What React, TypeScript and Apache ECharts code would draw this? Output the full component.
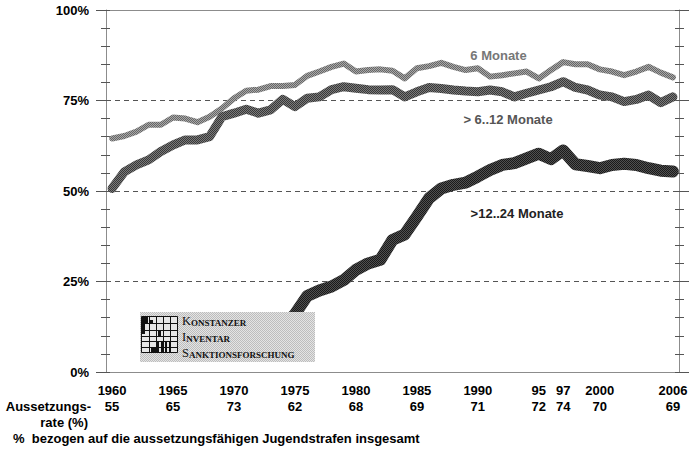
import React, { useEffect, useRef } from "react";
import * as echarts from "echarts";

const years = [
  "1960","1961","1962","1963","1964","1965","1966","1967","1968","1969",
  "1970","1971","1972","1973","1974","1975","1976","1977","1978","1979",
  "1980","1981","1982","1983","1984","1985","1986","1987","1988","1989",
  "1990","1991","1992","1993","1994","1995","1996","1997","1998","1999",
  "2000","2001","2002","2003","2004","2005","2006",
];

const months6 = [
  64.5, 65.2, 66.4, 68.3, 68.3, 70.3, 70.0, 69.0, 70.5, 72.8,
  75.6, 77.7, 78.0, 79.0, 79.0, 79.3, 81.8, 83.0, 84.3, 85.2,
  83.0, 83.4, 83.6, 83.2, 81.1, 83.9, 84.5, 85.4, 84.3, 83.4,
  83.9, 81.6, 82.0, 82.5, 83.0, 81.1, 83.4, 85.6, 85.0, 85.0,
  83.6, 83.0, 82.0, 83.0, 84.3, 82.7, 81.4,
];

const months6to12 = [
  50.7, 55.3, 57.2, 58.6, 60.9, 62.7, 64.1, 64.1, 65.0, 70.5,
  71.5, 72.6, 71.5, 72.4, 75.3, 73.3, 75.6, 76.0, 78.0, 78.8,
  78.4, 78.0, 77.9, 78.0, 76.0, 77.4, 78.6, 78.3, 77.9, 77.6,
  77.4, 77.9, 77.4, 76.0, 77.0, 77.9, 78.8, 80.2, 78.6, 77.9,
  76.5, 76.0, 74.7, 75.3, 76.5, 74.4, 76.0,
];

const months12to24 = [
  null, null, null, null, null, null, null, null, null, null,
  null, null, null, null, 12.5, 16.0, 21.0, 22.5, 23.6, 25.4,
  28.2, 30.0, 31.0, 36.5, 38.0, 42.9, 48.0, 50.7, 51.7, 52.3,
  54.0, 55.8, 57.2, 57.7, 59.0, 60.3, 58.8, 61.2, 57.4, 56.9,
  56.3, 57.2, 57.5, 57.2, 56.3, 55.6, 55.4,
];

const labeledYears = ["1960","1965","1970","1975","1980","1985","1990","1995","1997","2000","2006"];
const yearTickLabels = ["1960","1965","1970","1975","1980","1985","1990","95","97","2000","2006"];
const rateValues = ["55","65","73","62","68","69","71","72","74","70","69"];

const seriesNames = ["6 Monate", "> 6..12 Monate", ">12..24 Monate"];
const gridValues = [25, 50, 75];

const FONT = '"Liberation Sans", Arial, sans-serif';
const SERIF = '"Liberation Serif", "DejaVu Serif", serif';

function checker(a: string, b: string): any {
  try {
    const c = document.createElement("canvas");
    c.width = 2;
    c.height = 2;
    const ctx = c.getContext("2d");
    if (!ctx) return a;
    ctx.fillStyle = a;
    ctx.fillRect(0, 0, 2, 2);
    ctx.fillStyle = b;
    ctx.fillRect(0, 0, 1, 1);
    ctx.fillRect(1, 1, 1, 1);
    return { image: c, repeat: "repeat" };
  } catch (e) {
    return a;
  }
}

function txt(text: string, x: number, y: number, align: string, fill: string, size = 13, weight = "bold") {
  return {
    type: "text",
    x,
    y,
    z: 100,
    style: { text, fill, fontSize: size, fontWeight: weight, fontFamily: FONT, align, verticalAlign: "middle" },
  };
}

function logoLine(x1: number, y1: number, x2: number, y2: number) {
  return { type: "line", z: 101, shape: { x1, y1, x2, y2 }, style: { stroke: "#111", lineWidth: 1 } };
}
function logoBlock(x: number, y: number, w: number, h: number) {
  return { type: "rect", z: 101, shape: { x, y, width: w, height: h }, style: { fill: "#111" } };
}
function capsText(first: string, rest: string, x: number, y: number) {
  return {
    type: "text",
    x,
    y,
    z: 102,
    style: {
      text: `{a|${first}}{b|${rest}}`,
      align: "left",
      verticalAlign: "middle",
      rich: {
        a: { fontSize: 12.5, fontFamily: SERIF, fill: "#111", verticalAlign: "bottom", lineHeight: 13 },
        b: { fontSize: 9, fontFamily: SERIF, fill: "#111", verticalAlign: "bottom", lineHeight: 13, fontWeight: "bold" },
      },
    },
  };
}

export default function App() {
  const ref = useRef<HTMLDivElement>(null);

  useEffect(() => {
    if (!ref.current) return;
    const chart = echarts.init(ref.current, null, { renderer: "svg" });

    const axisGrey = "#8c8c8c";
    const tickGrey = "#555";

    const yBase = { type: "value", min: 0, max: 100, interval: 25, splitLine: { show: false } };

    const option: any = {
      animation: false,
      backgroundColor: "#ffffff",
      grid: { left: 106, right: 12, top: 10, bottom: 77, containLabel: false },
      xAxis: [
        {
          type: "category",
          data: years,
          boundaryGap: true,
          position: "bottom",
          axisLine: { show: true, onZero: false, lineStyle: { color: axisGrey, width: 1 } },
          axisTick: { show: false },
          splitLine: { show: false },
          axisLabel: {
            interval: 0,
            margin: 11,
            lineHeight: 15.5,
            color: "#000",
            fontSize: 13,
            fontWeight: "bold",
            fontFamily: FONT,
            hideOverlap: false,
            formatter: (v: string) => {
              const i = labeledYears.indexOf(v);
              return i < 0 ? "" : yearTickLabels[i] + "\n" + rateValues[i];
            },
          },
        },
        {
          type: "category",
          data: years,
          boundaryGap: true,
          position: "top",
          axisLine: { show: true, onZero: false, lineStyle: { color: axisGrey, width: 1 } },
          axisTick: { show: false },
          axisLabel: { show: false },
          splitLine: { show: false },
        },
      ],
      yAxis: [
        {
          ...yBase,
          position: "left",
          offset: 0,
          axisLine: { show: true, onZero: false, lineStyle: { color: axisGrey } },
          axisTick: { show: true, length: 10, lineStyle: { color: tickGrey } },
          minorTick: { show: true, splitNumber: 5, length: 5, lineStyle: { color: tickGrey } },
          axisLabel: {
            formatter: "{value}%",
            margin: 17,
            color: "#000",
            fontSize: 13,
            fontWeight: "bold",
            fontFamily: FONT,
          },
        },
        {
          ...yBase,
          position: "left",
          offset: 0,
          axisLine: { show: false, onZero: false },
          axisTick: { show: true, inside: true, length: 4, lineStyle: { color: tickGrey } },
          minorTick: { show: true, splitNumber: 5, length: 4, lineStyle: { color: tickGrey } },
          axisLabel: { show: false },
        },
        {
          ...yBase,
          position: "right",
          offset: 0,
          axisLine: { show: true, onZero: false, lineStyle: { color: axisGrey } },
          axisTick: { show: true, length: 10, lineStyle: { color: tickGrey } },
          minorTick: { show: true, splitNumber: 5, length: 5, lineStyle: { color: tickGrey } },
          axisLabel: { show: false },
        },
        {
          ...yBase,
          position: "right",
          offset: 0,
          axisLine: { show: false, onZero: false },
          axisTick: { show: true, inside: true, length: 4, lineStyle: { color: tickGrey } },
          minorTick: { show: true, splitNumber: 5, length: 4, lineStyle: { color: tickGrey } },
          axisLabel: { show: false },
        },
      ],
      series: [
        {
          name: seriesNames[0],
          type: "line",
          data: months6,
          xAxisIndex: 0,
          yAxisIndex: 0,
          symbol: "none",
          z: 3,
          lineStyle: { color: checker("#a8a8a8", "#666666"), width: 6, cap: "round", join: "round" },
          markLine: {
            silent: true,
            z: 1,
            symbol: "none",
            label: { show: false },
            lineStyle: { type: [5, 4], color: "#555", width: 1 },
            data: gridValues.map((v) => ({ yAxis: v })),
          },
        },
        {
          name: seriesNames[1],
          type: "line",
          data: months6to12,
          xAxisIndex: 0,
          yAxisIndex: 0,
          symbol: "none",
          z: 4,
          lineStyle: { color: checker("#7a7a7a", "#383838"), width: 9, cap: "round", join: "round" },
        },
        {
          name: seriesNames[2],
          type: "line",
          data: months12to24,
          xAxisIndex: 0,
          yAxisIndex: 0,
          symbol: "none",
          connectNulls: false,
          z: 5,
          lineStyle: { color: checker("#505050", "#1a1a1a"), width: 12, cap: "round", join: "round" },
        },
      ],
      graphic: [
        txt(seriesNames[0], 498.5, 55.5, "center", "#777"),
        txt(seriesNames[1], 508, 119.7, "center", "#555"),
        txt(seriesNames[2], 517, 213, "center", "#222"),
        txt("Aussetzungs-", 91, 406, "right", "#000"),
        txt("rate (%)", 88, 422.5, "right", "#000"),
        txt("%  bezogen auf die aussetzungsfähigen Jugendstrafen insgesamt", 13, 438.5, "left", "#000"),
        { type: "rect", z: 100, shape: { x: 140, y: 312, width: 175, height: 50 }, style: { fill: checker("#e4e4e4", "#bdbdbd") } },
        { type: "rect", z: 101, shape: { x: 141.5, y: 316.5, width: 36, height: 36 }, style: { fill: "#e6e6e6", stroke: "#111", lineWidth: 1 } },
        logoLine(149.5, 316.5, 149.5, 352.5),
        logoLine(156.5, 316.5, 156.5, 352.5),
        logoLine(163.5, 316.5, 163.5, 352.5),
        logoLine(170.5, 316.5, 170.5, 352.5),
        logoLine(141.5, 323.5, 177.5, 323.5),
        logoLine(141.5, 330.5, 177.5, 330.5),
        logoLine(141.5, 336.5, 177.5, 336.5),
        logoLine(141.5, 341.5, 177.5, 341.5),
        logoLine(141.5, 347.5, 177.5, 347.5),
        logoBlock(142, 317, 6, 6),
        logoBlock(142, 324, 3, 10),
        logoBlock(150, 320, 3, 3),
        logoBlock(158, 331, 3, 5),
        logoBlock(157, 342, 2, 10),
        logoBlock(161, 342, 2, 10),
        logoBlock(165, 342, 2, 10),
        logoBlock(169, 342, 2, 10),
        logoBlock(151, 348, 5, 4),
        capsText("K", "ONSTANZER", 182, 321),
        capsText("I", "NVENTAR", 182, 336.5),
        capsText("S", "ANKTIONSFORSCHUNG", 182, 352.5),
      ],
    };

    chart.setOption(option);
    return () => chart.dispose();
  }, []);

  return (
    <div
      ref={ref}
      style={{ position: "fixed", left: 0, top: 0, width: 691, height: 449, background: "#fff" }}
    />
  );
}
